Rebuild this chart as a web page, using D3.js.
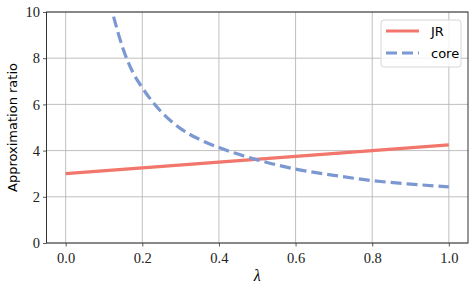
<!DOCTYPE html>
<html>
<head>
<meta charset="utf-8">
<script src="https://cdn.jsdelivr.net/npm/d3@7"></script>
<style>
  body { margin: 0; background: #fff; }
  svg { display: block; }
</style>
</head>
<body>
<svg width="475" height="289"></svg>
<script>
// values
let jrLambda = [0, 0.2, 0.4, 0.6, 0.8, 1.0]
let jrRatio = [3.0, 3.25, 3.5, 3.75, 4.0, 4.25]

let coreLambda = [0.125, 0.15, 0.175, 0.2, 0.25, 0.3, 0.35, 0.4, 0.5, 0.6, 0.7, 0.8, 0.9, 1.0]
let coreRatio = [9.8, 8.4, 7.4, 6.72, 5.67, 4.95, 4.48, 4.13, 3.6, 3.2, 2.93, 2.7, 2.55, 2.43]

let xTicks = [0, 0.2, 0.4, 0.6, 0.8, 1.0]
let yTicks = [0, 2, 4, 6, 8, 10]

let seriesNames = ['JR', 'core']
let seriesColors = ['#f2766b', '#7b98d3']

let svg = d3.select('svg')
let plotLeft = 46.5, plotRight = 468, plotTop = 12, plotBottom = 243

let xScale = d3.scaleLinear().domain([-0.05, 1.05]).range([plotLeft, plotRight])
let yScale = d3.scaleLinear().domain([0, 10]).range([plotBottom, plotTop])

let serif = '"Liberation Serif", "DejaVu Serif", serif'
let sans = '"DejaVu Sans", sans-serif'

// grid
let grid = svg.append('g')
grid.selectAll('.gx')
    .data(xTicks)
    .enter()
    .append('line')
    .attr('x1', d => xScale(d)).attr('x2', d => xScale(d))
    .attr('y1', plotTop).attr('y2', plotBottom)
    .attr('stroke', '#b8b8b8').attr('stroke-width', 0.9)
grid.selectAll('.gy')
    .data(yTicks)
    .enter()
    .append('line')
    .attr('x1', plotLeft).attr('x2', plotRight)
    .attr('y1', d => yScale(d)).attr('y2', d => yScale(d))
    .attr('stroke', '#b8b8b8').attr('stroke-width', 0.9)

// axes
let xAxis = svg.append('g')
    .attr('transform', `translate(0,${plotBottom})`)
    .call(d3.axisBottom(xScale).tickValues(xTicks).tickFormat(d3.format('.1f')).tickSize(3.5).tickSizeOuter(0))
let yAxis = svg.append('g')
    .attr('transform', `translate(${plotLeft},0)`)
    .call(d3.axisLeft(yScale).tickValues(yTicks).tickFormat(d3.format('d')).tickSize(3.5).tickSizeOuter(0))

xAxis.select('.domain').remove()
yAxis.select('.domain').remove()
svg.selectAll('.tick line').attr('stroke', '#333').attr('stroke-width', 0.8)
svg.selectAll('.tick text')
    .attr('fill', '#222')
    .style('font-family', serif)
    .style('font-size', '14.5px')
xAxis.selectAll('.tick text').attr('dy', '0.95em')

// lines
let jrLine = d3.line()
    .x(d => xScale(d[0]))
    .y(d => yScale(d[1]))
let coreLine = d3.line()
    .x(d => xScale(d[0]))
    .y(d => yScale(d[1]))
    .curve(d3.curveMonotoneX)

svg.append('path')
    .datum(jrLambda.map((l, i) => [l, jrRatio[i]]))
    .attr('d', jrLine)
    .attr('fill', 'none')
    .attr('stroke', seriesColors[0])
    .attr('stroke-width', 3.2)

svg.append('path')
    .datum(coreLambda.map((l, i) => [l, coreRatio[i]]))
    .attr('d', coreLine)
    .attr('fill', 'none')
    .attr('stroke', seriesColors[1])
    .attr('stroke-width', 3.2)
    .attr('stroke-dasharray', '11,5')

// frame
svg.append('rect')
    .attr('x', plotLeft).attr('y', plotTop)
    .attr('width', plotRight - plotLeft).attr('height', plotBottom - plotTop)
    .attr('fill', 'none')
    .attr('stroke', '#333')
    .attr('stroke-width', 1)

// labels
svg.append('text')
    .attr('x', (plotLeft + plotRight) / 2)
    .attr('y', 281)
    .attr('text-anchor', 'middle')
    .style('font-family', serif)
    .style('font-style', 'italic')
    .style('font-size', '16px')
    .text('λ')

svg.append('text')
    .attr('transform', `translate(17,${(plotTop + plotBottom) / 2}) rotate(-90)`)
    .attr('text-anchor', 'middle')
    .style('font-family', sans)
    .style('font-size', '13px')
    .text('Approximation ratio')

// legend
let legend = svg.append('g').attr('transform', 'translate(381,20)')
legend.append('rect')
    .attr('width', 80).attr('height', 47)
    .attr('rx', 3)
    .attr('fill', '#fff').attr('fill-opacity', 0.8)
    .attr('stroke', '#d6d6d6')

seriesNames.forEach((name, i) => {
    let y = 11 + i * 22
    legend.append('line')
        .attr('x1', 5).attr('x2', 38)
        .attr('y1', y).attr('y2', y)
        .attr('stroke', seriesColors[i])
        .attr('stroke-width', 3.2)
        .attr('stroke-dasharray', i == 1 ? '11,5' : null)
    legend.append('text')
        .attr('x', 50).attr('y', y)
        .attr('dy', '0.35em')
        .style('font-family', sans)
        .style('font-size', '13px')
        .text(name)
})
</script>
</body>
</html>
